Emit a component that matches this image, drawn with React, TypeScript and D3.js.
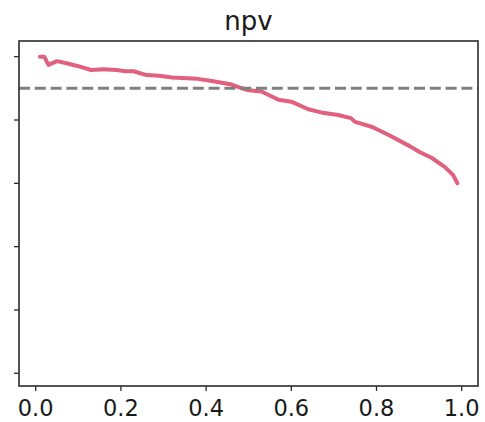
import React from "react";
import * as d3 from "d3";

const title = "npv";
const xValues = [0.01, 0.02, 0.03, 0.05, 0.07, 0.10, 0.13, 0.16, 0.19, 0.21, 0.23, 0.26, 0.29, 0.32, 0.38, 0.41, 0.46, 0.48, 0.50, 0.53, 0.57, 0.60, 0.64, 0.67, 0.71, 0.74, 0.75, 0.79, 0.83, 0.88, 0.90, 0.93, 0.96, 0.98, 0.99];
const npvValues = [1.000, 1.000, 0.987, 0.993, 0.990, 0.985, 0.979, 0.980, 0.979, 0.977, 0.977, 0.971, 0.970, 0.967, 0.965, 0.962, 0.956, 0.951, 0.947, 0.945, 0.932, 0.929, 0.917, 0.912, 0.908, 0.903, 0.897, 0.889, 0.876, 0.858, 0.850, 0.840, 0.826, 0.813, 0.800];
const thresholdValue = 0.95;
const xTicks = [0, 0.2, 0.4, 0.6, 0.8, 1.0];
const yTicks = [0.5, 0.6, 0.7, 0.8, 0.9, 1.0];

export default function App() {
  const W = 485, H = 422;
  const left = 19, right = 478, top = 41, bottom = 386;
  const x = d3.scaleLinear().domain([0, 1]).range([35.7, 461.7]);
  const y = d3.scaleLinear().domain([0.5, 1.0]).range([373.3, 56.7]);
  const pts = xValues.map((v, i) => [v, npvValues[i]] as [number, number]);
  const line = d3.line<[number, number]>().x(d => x(d[0])).y(d => y(d[1]));
  const font = "'DejaVu Sans', sans-serif";
  return (
    <svg width={W} height={H} style={{ position: "absolute", left: 0, top: 0, background: "#fff" }}>
      <rect x={0} y={0} width={W} height={H} fill="#fff" />
      <text x={(left + right) / 2} y={30} textAnchor="middle" fontFamily={font} fontSize={26} fill="#1a1a1a">{title}</text>
      <path d={line(pts) || ""} fill="none" stroke="#e0607e" strokeWidth={4} strokeLinejoin="round" strokeLinecap="round" />
      <line x1={left} x2={right} y1={y(thresholdValue)} y2={y(thresholdValue)} stroke="#808080" strokeWidth={3} strokeDasharray="11,4.8" />
      <rect x={left} y={top} width={right - left} height={bottom - top} fill="none" stroke="#2b2b2b" strokeWidth={1.6} />
      {yTicks.map(t => (
        <line key={"y" + t} x1={left - 5} x2={left} y1={y(t)} y2={y(t)} stroke="#2b2b2b" strokeWidth={1.3} />
      ))}
      {xTicks.map(t => (
        <g key={"x" + t}>
          <line x1={x(t)} x2={x(t)} y1={bottom} y2={bottom + 5} stroke="#2b2b2b" strokeWidth={1.3} />
          <text x={x(t)} y={416} textAnchor="middle" fontFamily={font} fontSize={22.5} fill="#1a1a1a">{t.toFixed(1)}</text>
        </g>
      ))}
    </svg>
  );
}
